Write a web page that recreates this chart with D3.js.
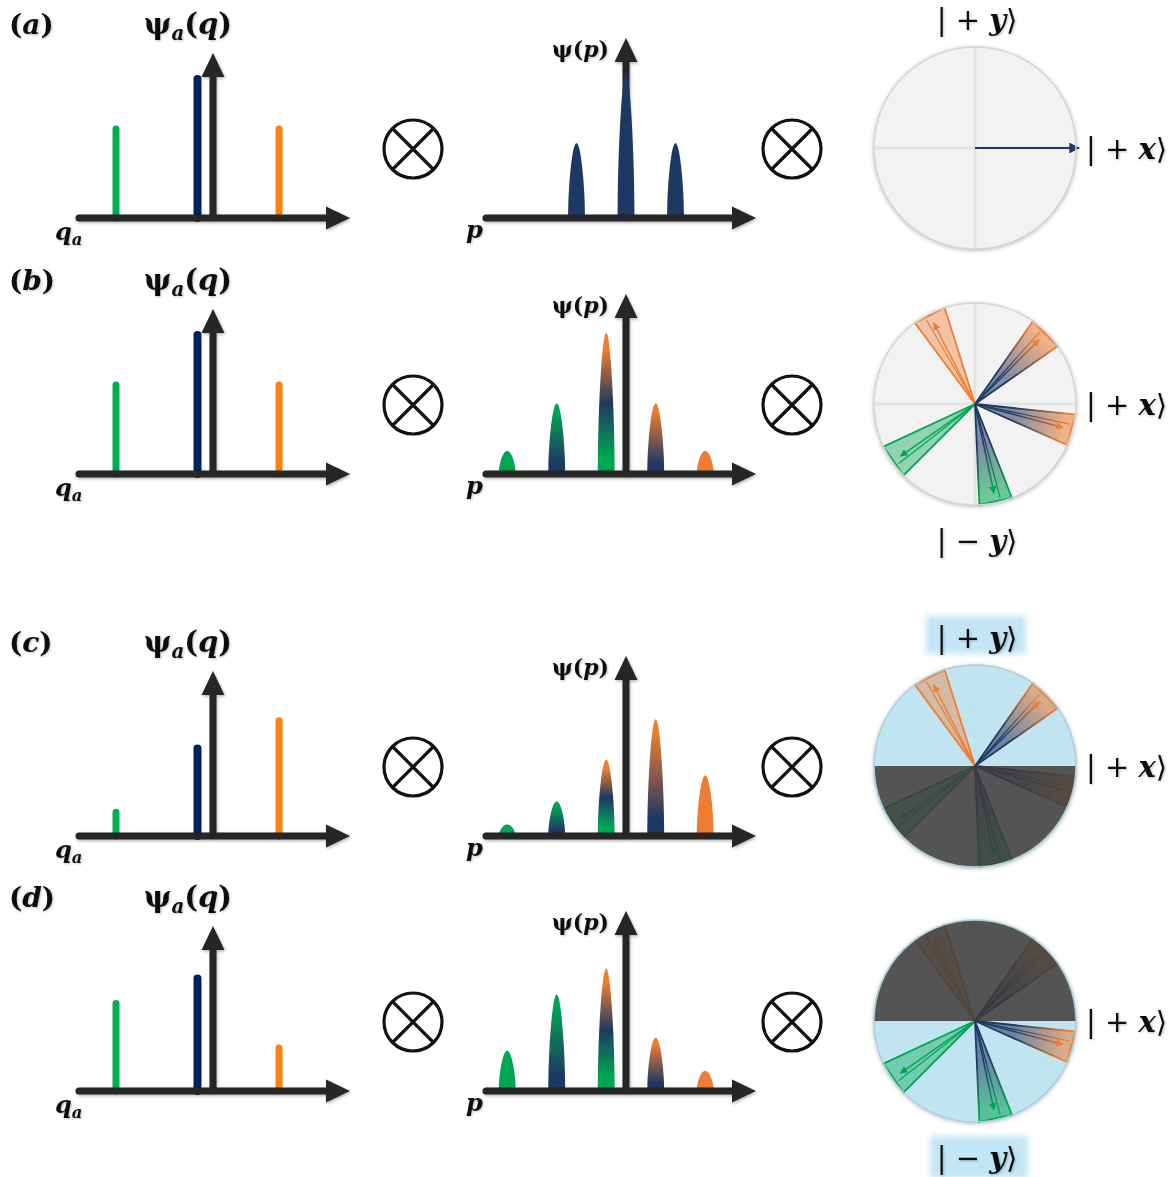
<!DOCTYPE html>
<html><head><meta charset="utf-8">
<script src="https://cdn.jsdelivr.net/npm/d3@7"></script>
<style>body{margin:0;background:#fff}svg{display:block}</style>
</head><body>
<script>
// ---------------- DATA ----------------
const panelLabels = ["(a)", "(b)", "(c)", "(d)"];
const qPositions = [-1, 0, 1];
const qColorNames = ["green", "navy", "orange"];
const qAmplitudes = [
  [0.64, 1.00, 0.64],
  [0.64, 1.00, 0.64],
  [0.17, 0.63, 0.83],
  [0.63, 0.81, 0.31]
];
const pPositionsA = [-1, 0, 1];
const pPositionsBCD = [-2.4, -1.4, -0.4, 0.6, 1.6];
const pAmplitudes = [
  [0.52, 1.00, 0.52],
  [0.16, 0.49, 0.98, 0.49, 0.16],
  [0.08, 0.24, 0.53, 0.81, 0.42],
  [0.28, 0.67, 0.85, 0.37, 0.14]
];
const pPeakColorsA = [["navy"], ["navy"], ["navy"]];
const pPeakColorsBCD = [["green"], ["green", "navy"], ["orange", "navy", "green"], ["orange", "navy"], ["orange"]];
const wedgeAngles = [117, 45, -15, 215, -78];      // degrees, counter-clockwise from +x
const wedgeHalfWidths = [9.5, 10, 9, 10, 9.5];      // degrees
const wedgeColorNames = [["orange", "orange"], ["navy", "orange"], ["navy", "orange"], ["green", "green"], ["navy", "green"]];
const blochBlueHalf = [null, null, "upper", "lower"];
const ketPlusY = "|+y⟩", ketPlusX = "|+x⟩", ketMinusY = "|−y⟩";

// ---------------- STYLE ----------------
const lineColors = {green: "#00b050", navy: "#002060", orange: "#ff800e"};
const fillColors = {green: "#00a651", navy: "#1f3864", orange: "#ed7d31"};
const W = 1174, H = 1177;
const rowY = [218, 474, 836, 1091];
const AX = "#262626";
const SERIF = "'DejaVu Serif','Liberation Serif',serif";

const svg = d3.select("body").append("svg").attr("width", W).attr("height", H)
  .style("font-family", SERIF);
const defs = svg.append("defs");
function dropShadow(id, dx, dy, sd, op) {
  const f = defs.append("filter").attr("id", id).attr("x", "-30%").attr("y", "-30%").attr("width", "160%").attr("height", "160%");
  f.append("feDropShadow").attr("dx", dx).attr("dy", dy).attr("stdDeviation", sd).attr("flood-color", "#000").attr("flood-opacity", op);
}
dropShadow("sh", 1, 1.5, 1.5, 0.3);
dropShadow("circ", 0, 1, 2.5, 0.35);
dropShadow("tsh", 1, 1, 1, 0.25);
const hb = defs.append("filter").attr("id", "hlblur").attr("x", "-20%").attr("y", "-40%").attr("width", "140%").attr("height", "180%");
hb.append("feGaussianBlur").attr("stdDeviation", 3);
const pb = defs.append("filter").attr("id", "pblur");
pb.append("feGaussianBlur").attr("stdDeviation", 0.5);

Object.entries(fillColors).forEach(([k, c]) => {
  defs.append("marker").attr("id", "m-" + k).attr("viewBox", "0 0 10 10").attr("refX", 9).attr("refY", 5)
    .attr("markerWidth", 5).attr("markerHeight", 5).attr("orient", "auto")
    .append("path").attr("d", "M0,0L10,5L0,10Z").attr("fill", c);
});
defs.append("marker").attr("id", "m-bloch").attr("viewBox", "0 0 10 10").attr("refX", 9).attr("refY", 5)
  .attr("markerWidth", 6).attr("markerHeight", 6).attr("orient", "auto")
  .append("path").attr("d", "M0,0L10,5L0,10Z").attr("fill", "#1f3864");

function axisArrow(g, x1, y1, x2, y2, cap) {
  const len = Math.hypot(x2 - x1, y2 - y1), ux = (x2 - x1) / len, uy = (y2 - y1) / len;
  const hl = 24, hw = 11.5, bx = x2 - ux * hl, by = y2 - uy * hl;
  const a = g.append("g").attr("filter", "url(#sh)");
  a.append("line").attr("x1", x1).attr("y1", y1).attr("x2", bx + ux * 2).attr("y2", by + uy * 2)
    .attr("stroke", AX).attr("stroke-width", 7).attr("stroke-linecap", cap || "butt");
  a.append("path").attr("d", `M${x2},${y2}L${bx - uy * hw},${by + ux * hw}L${bx + uy * hw},${by - ux * hw}Z`).attr("fill", AX);
}

function mathText(g, x, y, parts, size, anchor) {
  const t = g.append("text").attr("x", x).attr("y", y).attr("font-size", size)
    .attr("text-anchor", anchor || "start").attr("font-weight", "bold").attr("fill", "#111")
    .attr("filter", "url(#tsh)");
  let shifted = 0;
  parts.forEach(p => {
    const s = t.append("tspan").text(p.t).attr("font-style", p.i ? "italic" : "normal");
    if (p.w) s.attr("font-weight", p.w);
    if (p.sub) { s.attr("font-size", size * 0.68).attr("dy", size * 0.22); shifted = size * 0.22; }
    else if (shifted) { s.attr("dy", -shifted); shifted = 0; }
  });
  return t;
}
function ketParts(k) {
  return [{t: k[0], w: "normal"}, {t: " " + k[1] + " ", w: "normal"}, {t: k[2], i: true}, {t: k[3], w: "normal"}];
}

function otimes(g, cx, cy) {
  const r = 29, d = r * Math.SQRT1_2;
  g.append("circle").attr("cx", cx).attr("cy", cy).attr("r", r).attr("fill", "none").attr("stroke", "#111").attr("stroke-width", 3.2);
  g.append("path").attr("d", `M${cx - d},${cy - d}L${cx + d},${cy + d}M${cx + d},${cy - d}L${cx - d},${cy + d}`)
    .attr("stroke", "#111").attr("stroke-width", 3.2);
}

const peakShape = u => Math.pow(Math.max(0, Math.cos(Math.PI * u / 2)), 0.55);
const us = d3.range(-1, 1.0001, 0.04);
const peakHalf = 8.5;

rowY.forEach((by, r) => {
  const g = svg.append("g");
  // ---------- left chart ----------
  const xq = d3.scaleLinear().domain([-1, 1]).range([116, 279]);
  const yq = d3.scaleLinear().domain([0, 1]).range([by, by - 139]);
  g.selectAll(null).data(qPositions).enter().append("line")
    .attr("x1", d => xq(d)).attr("x2", d => xq(d))
    .attr("y1", by).attr("y2", (d, i) => yq(qAmplitudes[r][i]))
    .attr("stroke", (d, i) => lineColors[qColorNames[i]])
    .attr("stroke-width", (d, i) => i === 1 ? 8 : 7).attr("stroke-linecap", "round");
  axisArrow(g, xq(0) + 15.5, by, xq(0) + 15.5, by - 165);
  axisArrow(g, 79, by, 350, by, "round");
  mathText(g, 9, by - 184, [{t: panelLabels[r][0]}, {t: panelLabels[r][1], i: true}, {t: panelLabels[r][2]}], 28);
  mathText(g, 188, by - 184, [{t: "ψ"}, {t: "a", i: true, sub: true}, {t: "("}, {t: "q", i: true}, {t: ")"}], 29, "middle");
  mathText(g, 55, by + 22, [{t: "q", i: true}, {t: "a", i: true, sub: true}], 24);

  // ---------- middle chart ----------
  const xp = d3.scaleLinear().domain([-1, 1]).range([626 - 49.5, 626 + 49.5]);
  const yp = d3.scaleLinear().domain([0, 1]).range([by, by - 144]);
  axisArrow(g, 626, by, 626, by - 180);
  const pos = r === 0 ? pPositionsA : pPositionsBCD;
  const cols = r === 0 ? pPeakColorsA : pPeakColorsBCD;
  pos.forEach((p, i) => {
    const id = `pg${r}_${i}`;
    const lg = defs.append("linearGradient").attr("id", id).attr("x1", 0).attr("y1", 0).attr("x2", 0).attr("y2", 1);
    const c = cols[i];
    const offs = c.length === 1 ? [0] : c.length === 2 ? [0.12, 0.85] : [0.12, 0.5, 0.88];
    c.forEach((cn, k) => lg.append("stop").attr("offset", offs[k]).attr("stop-color", fillColors[cn]));
    const amp = pAmplitudes[r][i];
    const pts = us.map(u => [xp(p) + u * peakHalf, yp(amp * peakShape(u))]);
    g.append("path").attr("d", d3.line()(pts) + "Z").attr("fill", `url(#${id})`).attr("filter", "url(#pblur)");
  });
  axisArrow(g, 486, by, 756, by, "round");
  mathText(g, 609, by - 161, [{t: "ψ"}, {t: "("}, {t: "p", i: true}, {t: ")"}], 22, "end");
  mathText(g, 466, by + 20, [{t: "p", i: true}], 24);

  // ---------- otimes ----------
  otimes(g, 413, by - 69);
  otimes(g, 792, by - 69);

  // ---------- Bloch circle ----------
  const cx = 975, cy = by - 70, R = 101;
  const rr = d3.scaleLinear().domain([0, 1]).range([0, R]);
  const pt = (deg, rad) => [cx + rr(rad) * Math.cos(deg * Math.PI / 180), cy - rr(rad) * Math.sin(deg * Math.PI / 180)];
  const bc = g.append("g");
  bc.append("circle").attr("cx", cx).attr("cy", cy).attr("r", R).attr("fill", "#f2f2f2").attr("filter", "url(#circ)");
  bc.append("path").attr("d", `M${cx - R},${cy}L${cx + R},${cy}M${cx},${cy - R}L${cx},${cy + R}`)
    .attr("stroke", "#e2e2e2").attr("stroke-width", 3);
  const half = d3.arc().innerRadius(0).outerRadius(R);
  const upper = half({startAngle: -Math.PI / 2, endAngle: Math.PI / 2});
  const lower = half({startAngle: Math.PI / 2, endAngle: 3 * Math.PI / 2});
  const blue = blochBlueHalf[r];
  if (blue) {
    bc.append("path").attr("transform", `translate(${cx},${cy})`).attr("d", blue === "upper" ? upper : lower)
      .attr("fill", "#bde3f1").attr("opacity", 0.92);
  }
  if (r === 0) {
    bc.append("line").attr("x1", cx).attr("y1", cy).attr("x2", pt(0, 1.03)[0]).attr("y2", cy)
      .attr("stroke", "#1f3864").attr("stroke-width", 1.8).attr("marker-end", "url(#m-bloch)");
  } else {
    wedgeAngles.forEach((a, i) => {
      const [c0, c1] = wedgeColorNames[i];
      const tip = pt(a, 1);
      const gid = `wg${r}_${i}`;
      const lg = defs.append("linearGradient").attr("id", gid).attr("gradientUnits", "userSpaceOnUse")
        .attr("x1", cx).attr("y1", cy).attr("x2", tip[0]).attr("y2", tip[1]);
      lg.append("stop").attr("offset", 0).attr("stop-color", fillColors[c0]);
      lg.append("stop").attr("offset", c0 === c1 ? 0 : 0.4).attr("stop-color", fillColors[c0]);
      lg.append("stop").attr("offset", 0.92).attr("stop-color", fillColors[c1]);
      const e1 = pt(a + wedgeHalfWidths[i], 1), e2 = pt(a - wedgeHalfWidths[i], 1);
      const wg = bc.append("g");
      wg.append("path").attr("d", `M${cx},${cy}L${e1[0]},${e1[1]}L${e2[0]},${e2[1]}Z`)
        .attr("fill", `url(#${gid})`).attr("fill-opacity", c0 === c1 ? 0.4 : 0.55)
        .attr("stroke", `url(#${gid})`).attr("stroke-width", 1.8).attr("stroke-linejoin", "miter");
      const s2 = pt(a + 3, 0.96);
      wg.append("line").attr("x1", cx).attr("y1", cy).attr("x2", s2[0]).attr("y2", s2[1])
        .attr("stroke", `url(#${gid})`).attr("stroke-width", 1.2);
      const a1 = pt(a, 0.9);
      wg.append("line").attr("x1", cx).attr("y1", cy).attr("x2", a1[0]).attr("y2", a1[1])
        .attr("stroke", `url(#${gid})`).attr("stroke-width", 1.5).attr("marker-end", `url(#m-${c1})`);
    });
  }
  if (blue) {
    bc.append("path").attr("transform", `translate(${cx},${cy})`).attr("d", blue === "upper" ? lower : upper)
      .attr("fill", "#3a3a3a").attr("opacity", 0.86);
  }
  bc.append("circle").attr("cx", cx).attr("cy", cy).attr("r", R).attr("fill", "none")
    .attr("stroke", blue ? "#a9cfdc" : "#d6d6d6").attr("stroke-width", 1.5);

  // ket labels
  const showTop = r === 0 || r === 2, showBottom = r === 1 || r === 3;
  if (showTop) {
    if (r === 2) g.append("rect").attr("x", 926).attr("y", cy - 150).attr("width", 100).attr("height", 38)
      .attr("fill", "#c3e6f6").attr("filter", "url(#hlblur)");
    mathText(g, cx + 2, cy - 118, ketParts(ketPlusY), 29, "middle");
  }
  mathText(g, 1086, cy + 11, ketParts(ketPlusX), 29);
  if (showBottom) {
    if (r === 3) g.append("rect").attr("x", 930).attr("y", cy + 115).attr("width", 98).attr("height", 42)
      .attr("fill", "#c3e6f6").attr("filter", "url(#hlblur)");
    mathText(g, cx + 2, cy + 147, ketParts(ketMinusY), 29, "middle");
  }
});
</script>
</body></html>
